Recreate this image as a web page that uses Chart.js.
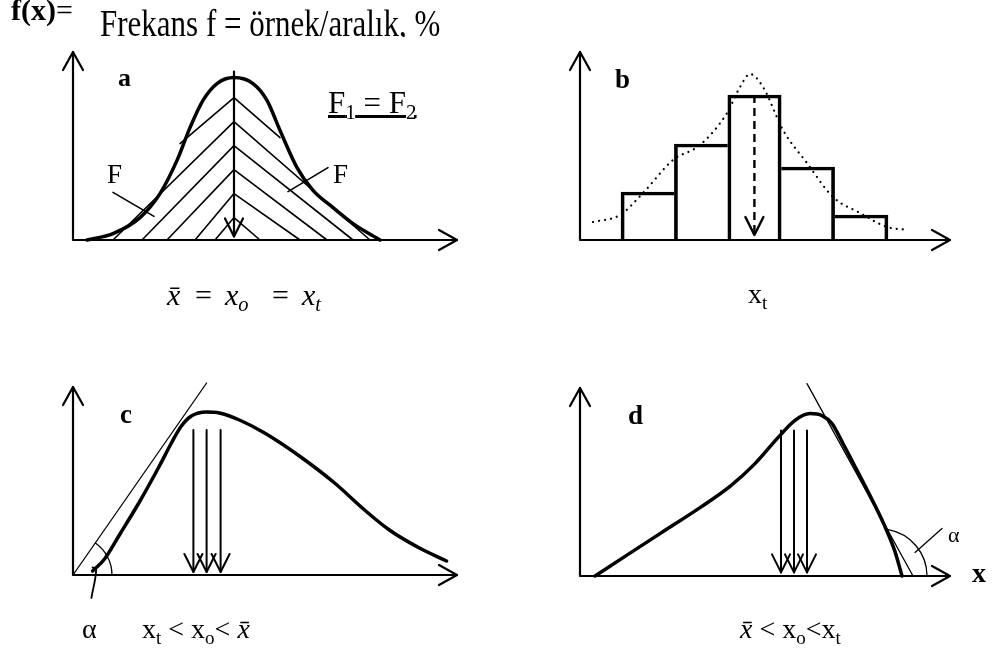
<!DOCTYPE html>
<html>
<head>
<meta charset="utf-8">
<script src="https://cdn.jsdelivr.net/npm/chart.js@4.4.1/dist/chart.umd.min.js"></script>
<style>
html, body { margin:0; padding:0; background:#fff; }
#page { position:relative; width:992px; height:648px; overflow:hidden;
        font-family:"Liberation Serif","Times New Roman",serif; color:#000; }
#page canvas { position:absolute; left:0; top:0; }
.lbl { position:absolute; line-height:0; white-space:nowrap; }
.lbl sub { font-size:0.68em; vertical-align:baseline; position:relative; top:0.32em; }
</style>
</head>
<body>
<div id="page">
  <canvas id="chartA" width="992" height="648"></canvas>
  <canvas id="chartB" width="992" height="648"></canvas>
  <canvas id="chartC" width="992" height="648"></canvas>
  <canvas id="chartD" width="992" height="648"></canvas>
</div>
<script>
// ---- a: symmetric distribution, hatched halves ----
const aCurveX = [3.5, 10, 16.75, 21.75, 26, 29.25, 32.5, 36, 40.25, 45, 48.5, 51.75, 56, 60, 65, 70, 76.75];
const aCurveY = [0, 1.6, 5.6, 11.6, 19.9, 28.1, 34.9, 39.1, 40.6, 39.1, 34.9, 27.4, 18.1, 12.4, 8.1, 4.1, 0];
const aModeX = 40.25;
const aModeTop = 42.1;
const hatchApex   = [35.6, 29.6, 23.6, 17.6, 11.6, 5.6];
const hatchLeftX  = [26.75, 10, 17.25, 23.5, 30.5, 35.5];
const hatchLeftY  = [24.1, 0, 0, 0, 0, 0];
const hatchRightX = [51.75, 74.25, 70, 63.5, 56.75, 46.75];
const hatchRightY = [25.6, 0, 0, 0, 0, 0];
const aPointerX = [[10, 20.25], [63.75, 53.75]];
const aPointerY = [[11.9, 5.9], [18.1, 12.1]];

// ---- b: histogram with fitted curve ----
const barX = [16.925, 30.275, 43.625, 56.975, 70.325];
const barY = [12, 24, 36.25, 18.25, 6.25];
const bCurveX = [3.25, 10, 15.75, 23.25, 30, 36.75, 40, 42.5, 45.75, 50.75, 56.75, 63.25, 70, 76.75, 82];
const bCurveY = [4.5, 6.25, 11.75, 20, 23.75, 31.75, 38.25, 41.5, 38.25, 27.5, 19.25, 10.75, 6.75, 3.25, 2.5];
const bModeX = 43.6;
const bModeY = [36.25, 1.25];

// ---- c: right-skewed ----
const cCurveX = [4.9, 7.9, 11.6, 16.6, 21.6, 24.6, 27.1, 29.6, 33.4, 36.6, 41.6, 47.9, 56.6, 65.4, 72.9, 79.1, 86.6, 93.4];
const cCurveY = [1, 4, 10, 18.25, 27.25, 33, 37.25, 39.75, 40.75, 40.5, 38.75, 35.5, 29.75, 23, 16.25, 11.25, 6.75, 3.5];
const cTangentX = [0, 33.4];
const cTangentY = [0, 48];
const cArrowX = [30.1, 33.4, 36.9];
const cArrowY = [36.25, 0.75];
const cAngle = [0, 0, 9.75, 0, 55];     // centre x, centre y, radius, from°, to°
const cPointerX = [4.6, 5.8, 4.9];
const cPointerY = [-5.75, 1.4, 1.9];

// ---- d: left-skewed ----
const dCurveX = [3.75, 11.25, 20, 30, 37.5, 43.75, 49.5, 53.75, 57.5, 60.5, 63, 65.75, 69, 72.5, 76, 78.75, 80.5];
const dCurveY = [0, 4.9, 10.6, 17.1, 22.4, 28.1, 34.6, 38.9, 40.6, 40.1, 38.1, 33.1, 26.9, 20.1, 12.9, 6.1, 0];
const dTangentX = [56.75, 83.25];
const dTangentY = [48.1, 0];
const dArrowX = [50.25, 53.5, 56.75];
const dArrowY = [36.4, 0.9];
const dAngle = [75, 0, 11.75, 0, 80];
const dPointerX = [83.75, 90.5];
const dPointerY = [5.9, 11.9];

const INK = '#000';
const pts = (xs, ys) => xs.map((x, i) => ({x: x, y: ys[i]}));

function line(data, width, extra) {
  return Object.assign({
    type: 'line', data: data, borderColor: INK, borderWidth: width,
    pointRadius: 0, tension: 0, fill: false, clip: false,
    borderCapStyle: 'round', borderJoinStyle: 'round'
  }, extra || {});
}

function arrowHead(ctx, x0, y0, x1, y1, hw, len) {
  const a = Math.atan2(y1 - y0, x1 - x0);
  const bx = x1 - len * Math.cos(a), by = y1 - len * Math.sin(a);
  ctx.beginPath();
  ctx.moveTo(bx + hw * Math.sin(a), by - hw * Math.cos(a));
  ctx.lineTo(x1, y1);
  ctx.lineTo(bx - hw * Math.sin(a), by + hw * Math.cos(a));
  ctx.stroke();
}

// axes with open arrowheads, arrowheads on flagged datasets, angle arcs
const sketch = {
  id: 'sketch',
  afterDatasetsDraw(chart, args, opts) {
    const ctx = chart.ctx;
    const {left, top, right, bottom} = chart.chartArea;
    const xs = chart.scales.x, ys = chart.scales.y;
    ctx.save();
    ctx.strokeStyle = INK;
    ctx.lineCap = 'round';
    ctx.lineJoin = 'round';
    ctx.setLineDash([]);

    ctx.lineWidth = 2.2;
    ctx.beginPath();
    ctx.moveTo(left, top);
    ctx.lineTo(left, bottom);
    ctx.lineTo(right, bottom);
    ctx.stroke();
    arrowHead(ctx, left, bottom, left, top, 10, 18);
    arrowHead(ctx, left, bottom, right, bottom, 10, 18);

    chart.data.datasets.forEach((ds, i) => {
      if (!ds.arrow) return;
      const p = chart.getDatasetMeta(i).data;
      const a = p[p.length - 2], b = p[p.length - 1];
      ctx.lineWidth = ds.borderWidth;
      arrowHead(ctx, a.x, a.y, b.x, b.y, 9, 18);
    });

    (opts.arcs || []).forEach(arc => {
      const cx = xs.getPixelForValue(arc[0]);
      const cy = ys.getPixelForValue(arc[1]);
      const r = xs.getPixelForValue(arc[0] + arc[2]) - cx;
      ctx.lineWidth = 1.3;
      ctx.beginPath();
      ctx.arc(cx, cy, r, -arc[4] * Math.PI / 180, -arc[3] * Math.PI / 180);
      ctx.stroke();
    });
    ctx.restore();
  }
};

function panel(id, box, xMax, datasets, arcs) {
  return new Chart(document.getElementById(id), {
    type: 'line',
    data: {datasets: datasets},
    options: {
      responsive: false,
      animation: false,
      devicePixelRatio: 1,
      events: [],
      layout: {padding: {left: box[0], top: box[1], right: 992 - box[2], bottom: 648 - box[3]}},
      scales: {
        x: {type: 'linear', display: false, offset: false, min: 0, max: xMax, ticks: {stepSize: 1000}},
        y: {type: 'linear', display: false, offset: false, min: 0, max: 47}
      },
      plugins: {legend: {display: false}, tooltip: {enabled: false}, sketch: {arcs: arcs || []}}
    },
    plugins: [sketch]
  });
}

// a
const aSets = [line(pts(aCurveX, aCurveY), 3.5, {cubicInterpolationMode: 'monotone'})];
hatchApex.forEach((h, i) => {
  aSets.push(line([{x: hatchLeftX[i], y: hatchLeftY[i]}, {x: aModeX, y: h},
                   {x: hatchRightX[i], y: hatchRightY[i]}], 1.6));
});
aSets.push(line([{x: aModeX, y: aModeTop}, {x: aModeX, y: 0.9}], 2.2, {arrow: true}));
aPointerX.forEach((px, i) => aSets.push(line(pts(px, aPointerY[i]), 1.6)));
panel('chartA', [73, 52, 457, 240], 96, aSets);

// b
const lastBar = barY.length - 1;
const bSets = [
  {
    type: 'bar', data: pts(barX, barY), borderColor: INK, backgroundColor: 'rgba(0,0,0,0)',
    barPercentage: 1, categoryPercentage: 1, grouped: false, borderSkipped: 'start',
    borderWidth: c => {
      const i = c.dataIndex;
      return {
        top: 3, bottom: 0,
        left: (i === 0 || barY[i] >= barY[i - 1]) ? 3 : 0,
        right: (i === lastBar || barY[i] > barY[i + 1]) ? 3 : 0
      };
    }
  },
  line(pts(bCurveX, bCurveY), 2.2, {cubicInterpolationMode: 'monotone', borderDash: [0.1, 6]}),
  line(pts([bModeX, bModeX], bModeY), 2.4, {borderDash: [8, 5], borderCapStyle: 'butt', arrow: true})
];
panel('chartB', [580, 52, 950, 240], 92.5, bSets);

// c
const cSets = [
  line(pts(cCurveX, cCurveY), 3.5, {cubicInterpolationMode: 'monotone'}),
  line(pts(cTangentX, cTangentY), 1.3),
  line(pts(cPointerX, cPointerY), 1.8, {tension: 0.4})
];
cArrowX.forEach(x => cSets.push(line(pts([x, x], cArrowY), 2, {arrow: true})));
panel('chartC', [73, 387, 457, 575], 96, cSets, [cAngle]);

// d
const dSets = [
  line(pts(dCurveX, dCurveY), 3.5, {cubicInterpolationMode: 'monotone'}),
  line(pts(dTangentX, dTangentY), 1.3),
  line(pts(dPointerX, dPointerY), 1.3)
];
dArrowX.forEach(x => dSets.push(line(pts([x, x], dArrowY), 2, {arrow: true})));
panel('chartD', [580, 388, 950, 576], 92.5, dSets, [dAngle]);

// ---- text ----
const XBAR = 'x\u0304';
const labels = [
  ['<b>f(x)</b>=', 11, 20, 30],
  ['<b>a</b>', 118, 87, 26],
  ['F', 107, 183, 27],
  ['F', 333, 183, 27],
  ['<u>F<sub>1</sub> = F<sub>2</sub></u>', 328, 113, 31],
  ['<b>b</b>', 615, 88, 27],
  ['x<sub>t</sub>', 748, 303, 28],
  ['<i>' + XBAR + '</i>', 167, 305, 30],
  ['=', 195, 305, 30],
  ['<i>x<sub>o</sub></i>', 225, 305, 30],
  ['=', 272, 305, 30],
  ['<i>x<sub>t</sub></i>', 302, 305, 30],
  ['<b>c</b>', 120, 423, 27],
  ['\u03b1', 82, 638, 28],
  ['x<sub>t</sub> &lt; x<sub>o</sub>&lt; <i>' + XBAR + '</i>', 142, 638, 28],
  ['<b>d</b>', 628, 424, 27],
  ['\u03b1', 948, 542, 22],
  ['<i>' + XBAR + '</i> &lt; x<sub>o</sub>&lt;x<sub>t</sub>', 740, 638, 28],
  ['<b>x</b>', 972, 582, 28]
];
const page = document.getElementById('page');
labels.forEach(l => {
  const d = document.createElement('div');
  d.className = 'lbl';
  d.innerHTML = l[0];
  d.style.left = l[1] + 'px';
  d.style.top = (l[2] - 0.3375 * l[3]) + 'px';
  d.style.fontSize = l[3] + 'px';
  page.appendChild(d);
});

// heading line, cut off just under its baseline
const wrap = document.createElement('div');
wrap.style.cssText = 'position:absolute;left:100px;top:0;width:420px;height:37px;overflow:hidden;';
const head = document.createElement('div');
head.className = 'lbl';
head.textContent = 'Frekans f = örnek/aralık, %';
head.style.cssText += 'left:0;font-size:31px;top:' + (36 - 0.3375 * 31) + 'px;' +
  'transform:scaleY(1.2);transform-origin:0 ' + (0.3375 * 31) + 'px;';
wrap.appendChild(head);
page.appendChild(wrap);
</script>
</body>
</html>
